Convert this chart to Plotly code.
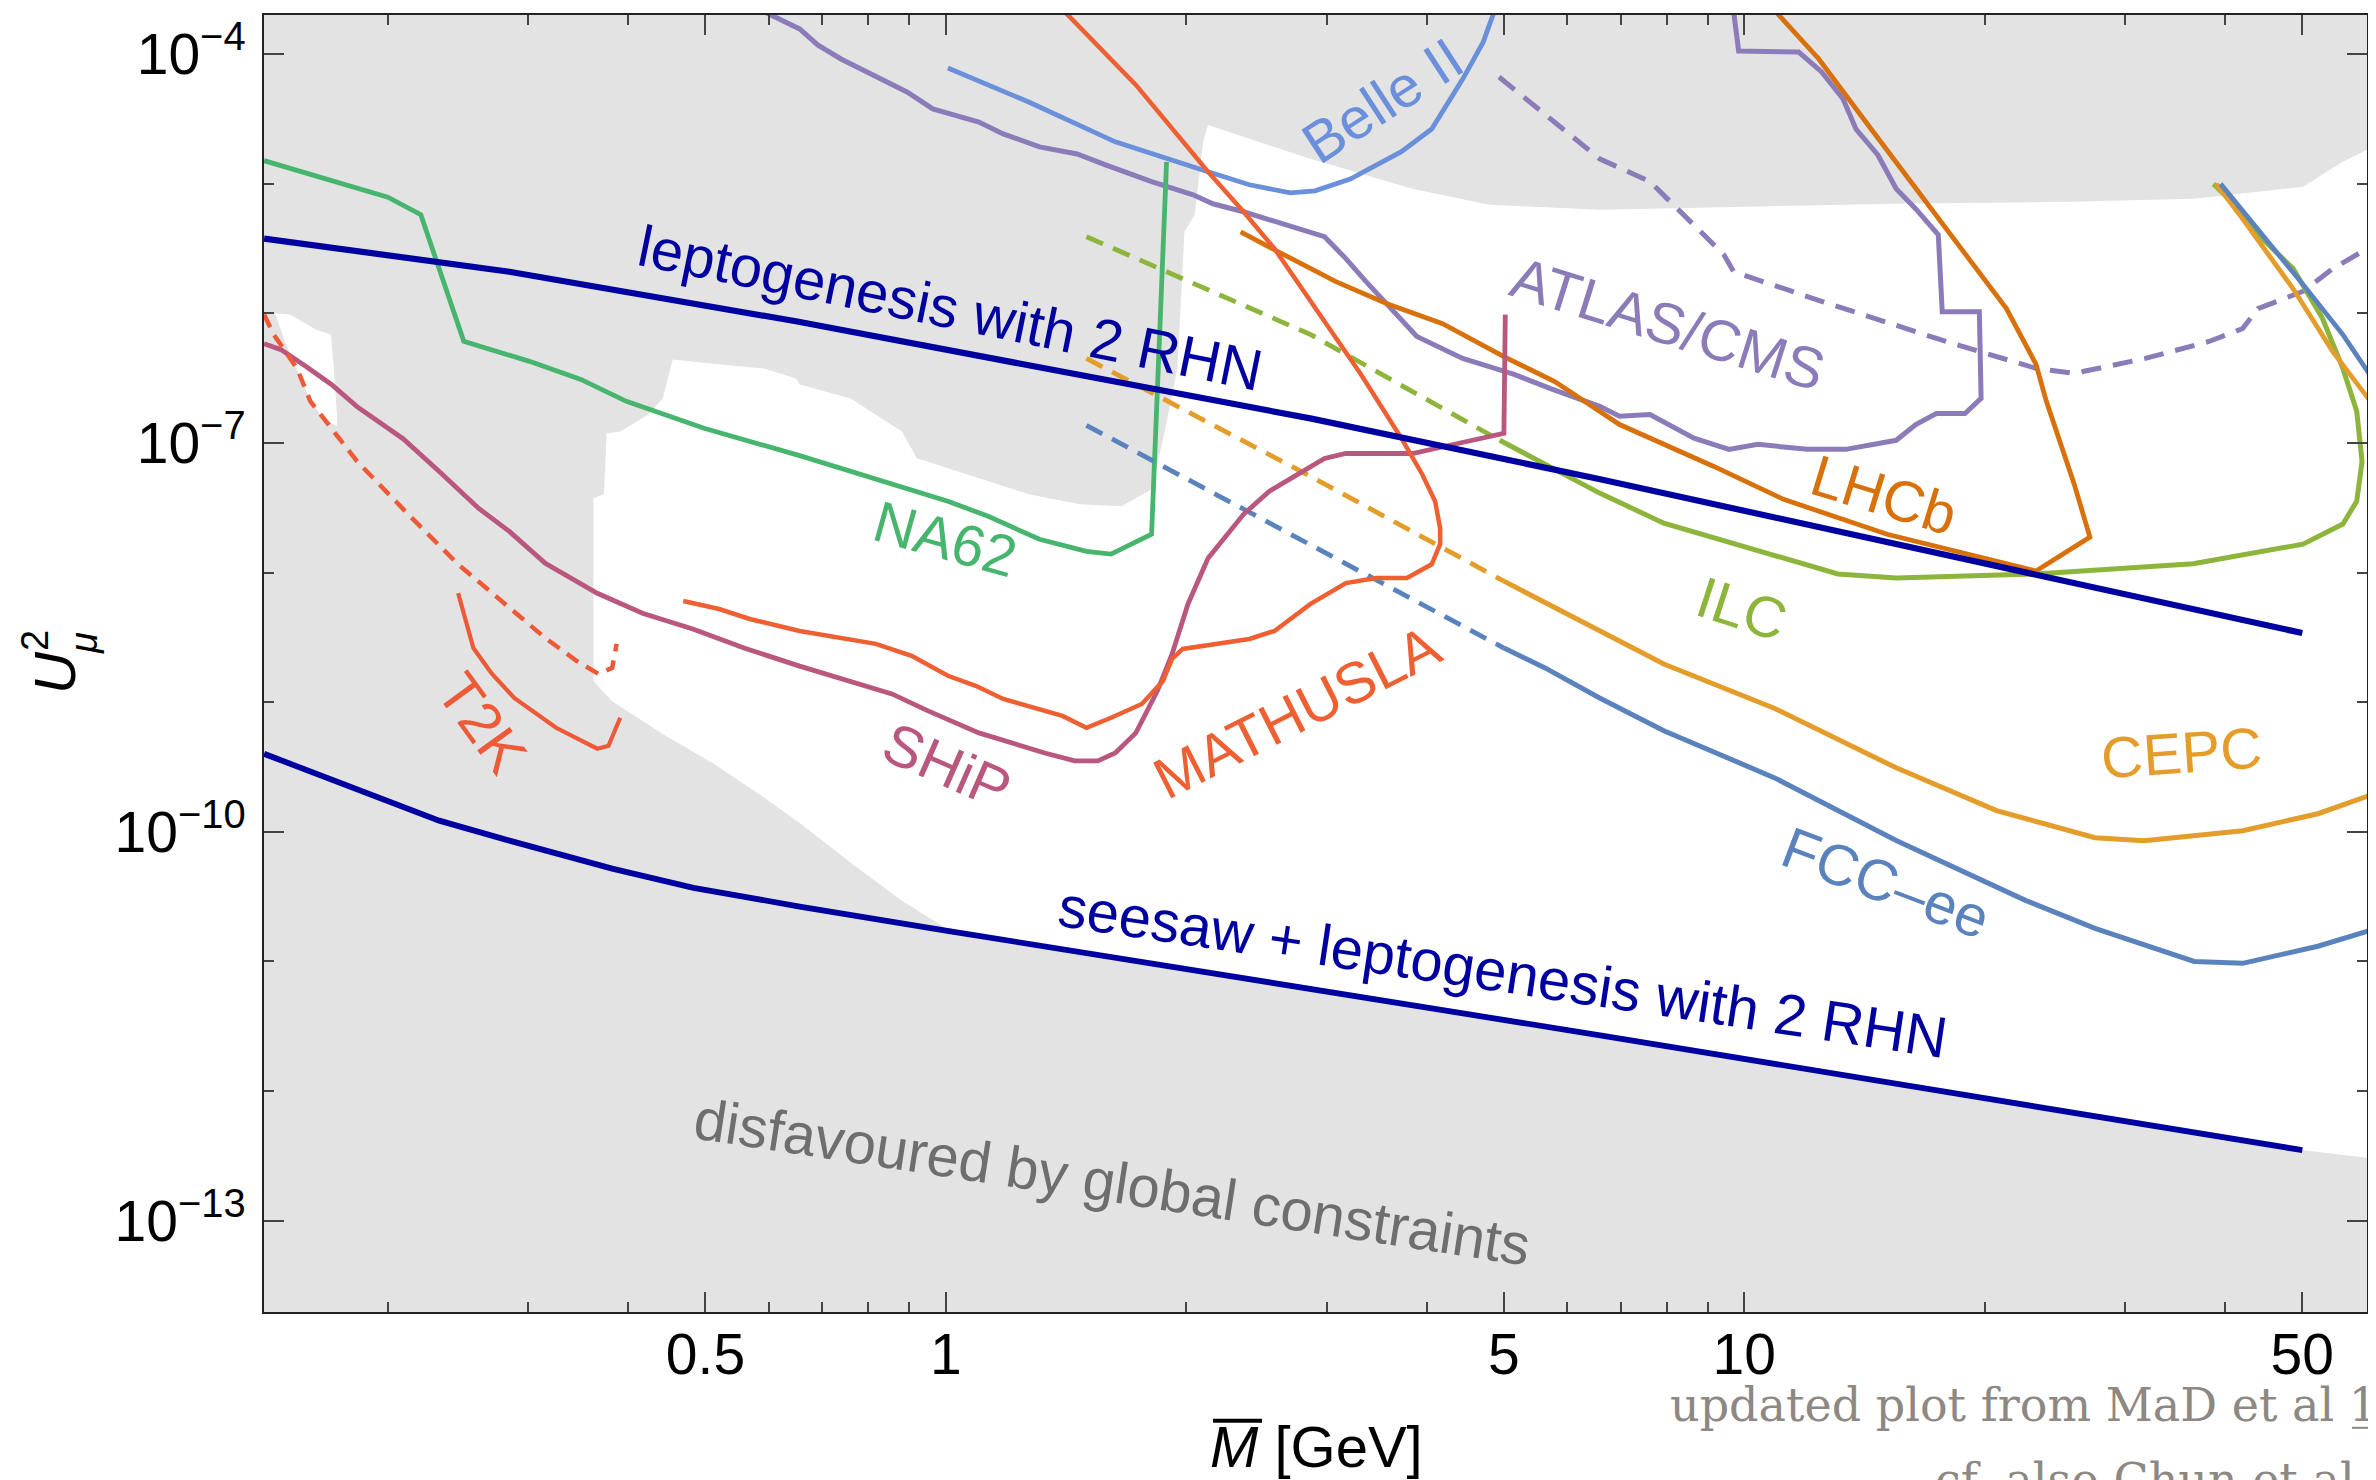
import plotly.graph_objects as go

# ---------------- data (M in GeV, U_mu^2) ----------------
seesaw_M = [0.14, 0.183, 0.232, 0.284, 0.382, 0.483, 0.656, 1.0, 6.6, 50.0]
seesaw_U2 = [4.0e-10, 2.15e-10, 1.22e-10, 8.55e-11, 5.2e-11, 3.7e-11, 2.65e-11, 1.73e-11, 2.69e-12, 3.5e-13]

lepto_M = [0.14, 0.284, 0.649, 1.71, 2.86, 6.6, 15.5, 23.2, 50.0]
lepto_U2 = [3.78e-6, 2.1e-6, 8.7e-7, 2.84e-7, 1.55e-7, 5.26e-8, 1.66e-8, 9.75e-9, 3.42e-9]

na62_M = [0.14, 0.2, 0.22, 0.249, 0.301, 0.349, 0.398, 0.498, 0.656, 0.817, 1.006, 1.13, 1.31, 1.50, 1.61, 1.81, 1.89]
na62_U2 = [1.51e-5, 7.9e-6, 5.78e-6, 6.1e-7, 4.27e-7, 3.1e-7, 2.1e-7, 1.3e-7, 8.0e-8, 5.25e-8, 3.56e-8, 2.72e-8, 1.81e-8, 1.46e-8, 1.39e-8, 1.98e-8, 1.48e-5]

belle_M = [1.006, 1.27, 1.63, 1.89, 2.13, 2.40, 2.70, 2.90, 3.21, 3.72, 4.06, 4.44, 4.71, 4.86]
belle_U2 = [7.83e-5, 4.28e-5, 2.11e-5, 1.56e-5, 1.24e-5, 9.84e-6, 8.53e-6, 8.83e-6, 1.09e-5, 1.77e-5, 2.65e-5, 6.44e-5, 1.24e-4, 2.12e-4]

atlas_M = [0.593, 0.656, 0.691, 0.739, 0.894, 0.963, 1.10, 1.18, 1.31, 1.46, 1.585, 1.81, 2.04, 2.16, 2.36, 2.70,
           2.98, 3.17, 3.36, 3.89, 4.44, 5.15, 5.71, 6.59, 6.98, 7.62, 8.65, 9.57, 10.4, 12.0, 13.4, 15.5, 16.4,
           17.4, 18.9, 19.8, 19.7, 17.7, 17.5, 16.4, 15.5, 14.7, 13.8, 13.3, 12.5, 11.7, 9.84, 9.70]
atlas_U2 = [2.12e-4, 1.57e-4, 1.18e-4, 9.2e-5, 5.12e-5, 3.79e-5, 3.0e-5, 2.43e-5, 1.93e-5, 1.70e-5, 1.40e-5, 1.04e-5,
            8.24e-6, 7.02e-6, 6.09e-6, 4.67e-6, 3.91e-6, 2.65e-6, 1.76e-6, 6.64e-7, 4.5e-7, 3.39e-7, 2.64e-7, 1.92e-7,
            1.61e-7, 1.66e-7, 1.09e-7, 8.94e-8, 9.77e-8, 8.94e-8, 8.94e-8, 1.05e-7, 1.39e-7, 1.69e-7, 1.69e-7, 2.21e-7,
            1.03e-6, 1.03e-6, 4.05e-6, 6.41e-6, 9.16e-6, 1.67e-5, 2.65e-5, 4.52e-5, 7.31e-5, 1.04e-4, 1.06e-4, 2.12e-4]

atlas_dash_M = [4.93, 6.59, 7.62, 9.43, 9.70, 12.5, 17.9, 23.2, 25.9, 31.8, 38.2, 42.1, 44.0, 50.1, 54.6, 59.4]
atlas_dash_U2 = [6.68e-5, 1.56e-5, 1.04e-5, 2.84e-6, 2.10e-6, 1.24e-6, 6.08e-7, 3.77e-7, 3.45e-7, 4.50e-7, 6.08e-7,
                 7.65e-7, 1.09e-6, 1.48e-6, 2.22e-6, 3.0e-6]

lhcb_M = [10.96, 12.4, 14.2, 16.4, 18.9, 21.3, 23.2, 23.9, 25.9, 27.1, 23.2, 15.1, 11.2, 9.16, 6.98, 6.59, 5.79, 5.0,
          4.19, 3.57, 3.08, 2.58, 2.34]
lhcb_U2 = [2.12e-4, 9.2e-5, 3.0e-5, 9.16e-6, 2.84e-6, 1.09e-6, 4.05e-7, 2.1e-7, 4.82e-8, 1.88e-8, 1.03e-8, 1.98e-8,
           3.68e-8, 6.6e-8, 1.39e-7, 1.75e-7, 2.98e-7, 4.64e-7, 8.34e-7, 1.19e-6, 1.76e-6, 3.1e-6, 4.27e-6]

ilc_dash_M = [1.50, 2.86, 4.94]
ilc_dash_U2 = [3.91e-6, 6.9e-7, 1.05e-7]
ilc_M = [4.94, 6.59, 7.93, 10.1, 13.1, 15.5, 23.2, 36.5, 50.1, 56.2, 58.5, 59.4, 58.5, 56.2, 53.0, 48.7, 44.0, 41.6, 38.7]
ilc_U2 = [1.05e-7, 4.11e-8, 2.41e-8, 1.55e-8, 9.77e-9, 9.1e-9, 9.77e-9, 1.17e-8, 1.66e-8, 2.37e-8, 3.56e-8, 7.2e-8,
          1.76e-7, 3.77e-7, 9.15e-7, 2.22e-6, 4.06e-6, 6.43e-6, 1.0e-5]

cepc_dash_M = [1.50, 2.86, 5.0]
cepc_dash_U2 = [4.5e-7, 5.55e-8, 8.6e-9]
cepc_M = [5.0, 6.59, 7.93, 10.9, 15.5, 20.7, 27.5, 31.7, 42.1, 52.3, 62.0]
cepc_U2 = [8.6e-9, 3.6e-9, 1.97e-9, 9.0e-10, 3.12e-10, 1.46e-10, 9.0e-11, 8.55e-11, 1.02e-10, 1.38e-10, 2.0e-10]
cepc_right_M = [39.0, 42.1, 48.7, 54.6, 62.0]
cepc_right_U2 = [1.0e-5, 5.37e-6, 1.55e-6, 5.08e-7, 1.8e-7]

fcc_dash_M = [1.50, 3.41, 5.0]
fcc_dash_U2 = [1.37e-7, 9.08e-9, 2.62e-9]
fcc_M = [5.0, 5.63, 6.59, 7.93, 10.9, 15.5, 22.5, 27.5, 36.6, 42.1, 52.3, 62.0]
fcc_U2 = [2.62e-9, 1.84e-9, 1.08e-9, 6.03e-10, 2.62e-10, 8.57e-11, 2.96e-11, 1.8e-11, 1.0e-11, 9.67e-12, 1.31e-11, 1.8e-11]
fcc_right_M = [39.5, 44.0, 50.1, 56.2, 62.0]
fcc_right_U2 = [1.0e-5, 4.5e-6, 1.67e-6, 6.87e-7, 2.8e-7]

mathusla_M = [1.41, 1.73, 2.13, 2.36, 2.58, 2.86, 3.31, 3.72, 3.95, 4.10, 4.16, 4.16, 4.06, 3.78, 3.46, 3.17, 2.86,
              2.58, 2.40, 1.98, 1.92, 1.87, 1.76, 1.61, 1.50, 1.40, 1.18, 1.09, 1.006, 0.906, 0.817, 0.656, 0.568,
              0.52, 0.469]
mathusla_U2 = [2.12e-4, 5.8e-5, 1.24e-5, 6.09e-6, 3.16e-6, 1.24e-6, 3.39e-7, 1.09e-7, 5.75e-8, 3.56e-8, 2.2e-8,
               1.66e-8, 1.16e-8, 9.08e-9, 9.08e-9, 8.3e-9, 5.72e-9, 3.55e-9, 3.08e-9, 2.58e-9, 2.16e-9, 1.46e-9,
               9.7e-10, 7.59e-10, 6.35e-10, 7.85e-10, 1.06e-9, 1.34e-9, 1.6e-9, 2.28e-9, 2.82e-9, 3.55e-9, 4.39e-9,
               5.24e-9, 6.04e-9]

ship_M = [0.14, 0.147, 0.158, 0.170, 0.183, 0.209, 0.232, 0.260, 0.284, 0.315, 0.366, 0.417, 0.483, 0.56, 0.656,
          0.76, 0.856, 0.95, 1.10, 1.33, 1.45, 1.55, 1.63, 1.73, 1.84, 1.92, 2.01, 2.13, 2.36, 2.54, 2.98, 3.17,
          3.84, 4.32, 5.0, 5.02]
ship_U2 = [5.85e-7, 5.26e-7, 3.89e-7, 2.83e-7, 1.91e-7, 1.08e-7, 6.04e-8, 3.13e-8, 2.08e-8, 1.18e-8, 6.93e-9,
           4.86e-9, 3.66e-9, 2.61e-9, 1.9e-9, 1.46e-9, 1.16e-9, 8.57e-10, 5.8e-10, 4.06e-10, 3.53e-10, 3.53e-10,
           4.06e-10, 5.8e-10, 1.22e-9, 2.35e-9, 5.71e-9, 1.29e-8, 2.82e-8, 4.24e-8, 7.6e-8, 8.31e-8, 8.31e-8,
           9.75e-8, 1.19e-7, 9.8e-7]

t2k_dash_M = [0.14, 0.144, 0.154, 0.160, 0.183, 0.212, 0.245, 0.284, 0.315, 0.345, 0.367, 0.382, 0.387]
t2k_dash_U2 = [9.8e-7, 6.85e-7, 3.75e-7, 2.1e-7, 7.24e-8, 2.83e-8, 1.16e-8, 5.33e-9, 3.13e-9, 2.08e-9, 1.66e-9,
               1.84e-9, 2.82e-9]
t2k_M = [0.245, 0.256, 0.27, 0.288, 0.325, 0.366, 0.378, 0.391]
t2k_U2 = [6.95e-9, 2.62e-9, 1.66e-9, 1.08e-9, 6.35e-10, 4.38e-10, 4.61e-10, 7.59e-10]

# region not disfavoured by global constraints (white)
allowed_M = [0.455, 0.442, 0.424, 0.391, 0.376, 0.373, 0.362, 0.362, 0.382, 0.442, 0.512, 0.593, 0.656, 0.76,
             0.881, 1.006, 6.59, 17.9, 50.2, 62.0, 62.0, 56.2, 50.1, 36.6, 25.6, 15.5, 10.1, 6.59, 4.79, 3.84,
             2.86, 2.22, 2.13, 2.10, 2.05, 1.99, 1.95, 1.88, 1.81, 1.66, 1.47, 1.27, 1.10, 0.92, 0.881, 0.76,
             0.656, 0.649, 0.593, 0.512]
allowed_U2 = [4.42e-7, 2.21e-7, 1.66e-7, 1.23e-7, 1.19e-7, 4.03e-8, 3.75e-8, 1.46e-9, 1.02e-9, 5.7e-10, 3.35e-10,
              1.83e-10, 1.17e-10, 5.78e-11, 2.94e-11, 1.76e-11, 2.69e-12, 9.77e-13, 3.5e-13, 3.0e-13, 2.0e-5,
              1.48e-5, 9.5e-6, 7.68e-6, 7.28e-6, 7.03e-6, 6.67e-6, 6.31e-6, 6.9e-6, 9.16e-6, 1.56e-5, 2.65e-5,
              2.85e-5, 2.11e-5, 5.78e-6, 4.27e-6, 3.77e-7, 1.23e-7, 4.41e-8, 3.26e-8, 3.37e-8, 4.03e-8, 5.35e-8,
              7.62e-8, 1.23e-7, 2.21e-7, 2.83e-7, 3.15e-7, 3.76e-7, 4.1e-7]
sliver_M = [0.1444, 0.1508, 0.1625, 0.1698, 0.1712, 0.1727, 0.1727, 0.1653, 0.1602, 0.1552, 0.1486, 0.1457]
sliver_U2 = [1.0e-6, 9.82e-7, 7.52e-7, 6.88e-7, 3.77e-7, 1.66e-7, 1.35e-7, 1.61e-7, 2.1e-7, 3.27e-7, 6.08e-7, 8.67e-7]

x_major = [0.5, 1, 5, 10, 50]
x_major_text = ["0.5", "1", "5", "10", "50"]
x_minor = [0.2, 0.3, 0.4, 0.6, 0.7, 0.8, 0.9, 2, 3, 4, 6, 7, 8, 9, 20, 30, 40]
y_major = [1e-4, 1e-7, 1e-10, 1e-13]
y_major_text = ["10<sup>\u22124</sup>", "10<sup>\u22127</sup>", "10<sup>\u221210</sup>", "10<sup>\u221213</sup>"]
y_minor = [1e-5, 1e-6, 1e-8, 1e-9, 1e-11, 1e-12]

# ---------------- styling ----------------
# the page body has an 8px default margin, so the figure is drawn 8px in from the window corner
OFF = 8
W, H = 2376 - OFF, 1480 - OFF
PL, PR, PT, PB = 264, 2367, 13, 1312          # plot area in window pixels
ML, MR, MT, MB = PL - OFF, W - (PR - OFF), PT - OFF, H - (PB - OFF)
PW, PH = W - ML - MR, H - MT - MB


def paper(xp, yp):
    return (xp - OFF - ML) / PW, (H - MB - (yp - OFF)) / PH


C_LEPTO = "#0000a0"
C_NA62 = "#47b56e"
C_BELLE = "#6a8fdb"
C_ATLAS = "#8b7bb9"
C_LHCB = "#d8710b"
C_ILC = "#8db43b"
C_CEPC = "#e49d2a"
C_FCC = "#5a83bd"
C_MATH = "#ee6032"
C_SHIP = "#b9577e"
C_T2K = "#ee5a38"
GRAY_BG = "#e3e3e3"

fig = go.Figure()

for mx, uy in [(allowed_M, allowed_U2), (sliver_M, sliver_U2)]:
    fig.add_trace(go.Scatter(x=mx, y=uy, mode="lines", fill="toself", fillcolor="white",
                             line=dict(width=0, color="white"), hoverinfo="skip"))


def line(mx, uy, color, width=4.8, dash=None):
    fig.add_trace(go.Scatter(x=mx, y=uy, mode="lines",
                             line=dict(color=color, width=width, dash=dash), hoverinfo="skip"))


DASH = "18px,11px"
line(atlas_M, atlas_U2, C_ATLAS, 5)
line(atlas_dash_M, atlas_dash_U2, C_ATLAS, 5, "20px,12px")
line(belle_M, belle_U2, C_BELLE)
line(na62_M, na62_U2, C_NA62)
line(lhcb_M, lhcb_U2, C_LHCB)
line(ilc_dash_M, ilc_dash_U2, C_ILC, 4.8, DASH)
line(ilc_M, ilc_U2, C_ILC, 5)
line(cepc_dash_M, cepc_dash_U2, C_CEPC, 4.8, DASH)
line(cepc_M, cepc_U2, C_CEPC, 5)
line(cepc_right_M, cepc_right_U2, C_CEPC)
line(fcc_dash_M, fcc_dash_U2, C_FCC, 4.8, DASH)
line(fcc_M, fcc_U2, C_FCC, 5)
line(fcc_right_M, fcc_right_U2, C_FCC)
line(ship_M, ship_U2, C_SHIP)
line(mathusla_M, mathusla_U2, C_MATH, 4.5)
line(t2k_dash_M, t2k_dash_U2, C_T2K, 4.5, "14px,9px")
line(t2k_M, t2k_U2, C_T2K, 4.2)
line(lepto_M, lepto_U2, C_LEPTO, 6.2)
line(seesaw_M, seesaw_U2, C_LEPTO, 5.8)

FONT = "Liberation Sans, Arial, Helvetica, sans-serif"
annotations = []


def label(text, xp, yp, color, angle=0, size=58, family=FONT, xanchor="center"):
    px_, py_ = paper(xp, yp)
    annotations.append(dict(text=text, x=px_, y=py_, xref="paper", yref="paper", showarrow=False,
                            textangle=angle, xanchor=xanchor, yanchor="middle",
                            font=dict(family=family, size=size, color=color)))


label("leptogenesis with 2 RHN", 950, 306, C_LEPTO, 11.5)
label("seesaw + leptogenesis with 2 RHN", 1503, 971, C_LEPTO, 8.5)
label("disfavoured by global constraints", 1112, 1181, "#6e6e6e", 8.7)
label("NA62", 945, 537, C_NA62, 15.5)
label("T2K", 482, 722, C_T2K, 54)
label("SHiP", 947, 765, C_SHIP, 23.7)
label("MATHUSLA", 1297, 711, C_MATH, -26.9)
label("Belle II", 1382, 99, C_BELLE, -33)
label("ATLAS/CMS", 1668, 322, C_ATLAS, 17.4)
label("LHCb", 1884, 493, C_LHCB, 17)
label("ILC", 1742, 607, C_ILC, 18)
label("CEPC", 2181, 752, C_CEPC, -4)
label("FCC\u2013ee", 1886, 882, C_FCC, 20.7)

# axis titles
label("<i>M</i> [GeV]", 1316, 1447, "black", 0, 58)
label("<i>U</i>", 55, 672, "black", -90, 58)
label("2", 35, 640, "black", -90, 38)
label("<i>\u03bc</i>", 84, 642, "black", -90, 38)

# credit lines
SERIF = "DejaVu Serif, Liberation Serif, serif"
label("updated plot from MaD et al 1", 1668, 1405, "#8e8883", 0, 46, SERIF, "left")
label("cf. also Chun et al 1", 1933, 1480, "#8e8883", 0, 46, SERIF, "left")

shapes = []
ox0, oy = paper(1213, 1421)
ox1, _ = paper(1262, 1421)
shapes.append(dict(type="line", xref="paper", yref="paper", x0=ox0, x1=ox1, y0=oy, y1=oy,
                   line=dict(color="black", width=4)))
ux0, uy = paper(2352, 1428)
ux1, _ = paper(2380, 1428)
shapes.append(dict(type="line", xref="paper", yref="paper", x0=ux0, x1=ux1, y0=uy, y1=uy,
                   line=dict(color="#8e8883", width=2)))

axis_common = dict(showline=True, linecolor="#222", linewidth=2, mirror="ticks", ticks="inside",
                   ticklen=20, tickwidth=1.5, tickcolor="#444", showgrid=False, zeroline=False,
                   tickfont=dict(family=FONT, size=57, color="black"))

fig.update_layout(
    width=W, height=H,
    margin=dict(l=ML, r=MR, t=MT, b=MB),
    paper_bgcolor="white", plot_bgcolor=GRAY_BG,
    showlegend=False,
    xaxis=dict(type="log", range=[-0.854, 1.780], tickmode="array", tickvals=x_major, ticktext=x_major_text,
               minor=dict(tickmode="array", tickvals=x_minor, ticks="inside", ticklen=10, tickwidth=1.5,
                          tickcolor="#444", showgrid=False),
               ticklabelstandoff=-8, **axis_common),
    yaxis=dict(type="log", range=[-13.705, -3.697], tickmode="array", tickvals=y_major, ticktext=y_major_text,
               minor=dict(tickmode="array", tickvals=y_minor, ticks="inside", ticklen=10, tickwidth=1.5,
                          tickcolor="#444", showgrid=False),
               ticklabelstandoff=5, **axis_common),
    annotations=annotations,
    shapes=shapes,
)

fig.write_html("out.html")
